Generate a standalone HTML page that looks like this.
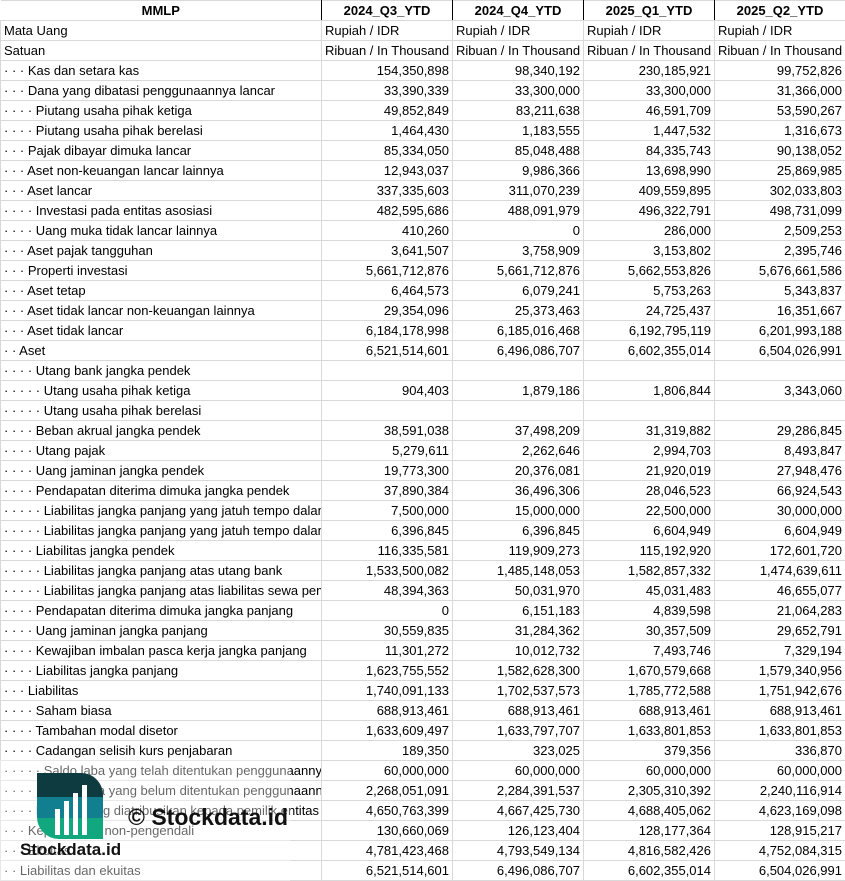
<!DOCTYPE html>
<html><head><meta charset="utf-8"><style>
body{margin:0;width:845px;height:881px;overflow:hidden;background:#fff;font-family:"Liberation Sans",sans-serif;font-size:13px;color:#000;position:relative}
table{border-collapse:collapse;table-layout:fixed;position:absolute;left:0;top:0;width:845px}
td{height:19px;padding:0 3px;border:1px solid #d9d9d9;white-space:nowrap;overflow:hidden;text-overflow:clip;line-height:19px}
td.n{text-align:right}
tr.h td{font-weight:bold;text-align:center;border-left:1px solid #000;border-right:1px solid #000}
tr.h td:first-child{border-left:none}
</style></head><body>
<table>
<colgroup><col style="width:321px"><col style="width:131px"><col style="width:131px"><col style="width:131px"><col style="width:131px"></colgroup>
<tr class="h"><td>MMLP</td><td>2024_Q3_YTD</td><td>2024_Q4_YTD</td><td>2025_Q1_YTD</td><td>2025_Q2_YTD</td></tr>
<tr><td>Mata Uang</td><td>Rupiah / IDR</td><td>Rupiah / IDR</td><td>Rupiah / IDR</td><td>Rupiah / IDR</td></tr>
<tr><td>Satuan</td><td>Ribuan / In Thousand</td><td>Ribuan / In Thousand</td><td>Ribuan / In Thousand</td><td>Ribuan / In Thousand</td></tr>
<tr><td>· · · Kas dan setara kas</td><td class="n">154,350,898</td><td class="n">98,340,192</td><td class="n">230,185,921</td><td class="n">99,752,826</td></tr>
<tr><td>· · · Dana yang dibatasi penggunaannya lancar</td><td class="n">33,390,339</td><td class="n">33,300,000</td><td class="n">33,300,000</td><td class="n">31,366,000</td></tr>
<tr><td>· · · · Piutang usaha pihak ketiga</td><td class="n">49,852,849</td><td class="n">83,211,638</td><td class="n">46,591,709</td><td class="n">53,590,267</td></tr>
<tr><td>· · · · Piutang usaha pihak berelasi</td><td class="n">1,464,430</td><td class="n">1,183,555</td><td class="n">1,447,532</td><td class="n">1,316,673</td></tr>
<tr><td>· · · Pajak dibayar dimuka lancar</td><td class="n">85,334,050</td><td class="n">85,048,488</td><td class="n">84,335,743</td><td class="n">90,138,052</td></tr>
<tr><td>· · · Aset non-keuangan lancar lainnya</td><td class="n">12,943,037</td><td class="n">9,986,366</td><td class="n">13,698,990</td><td class="n">25,869,985</td></tr>
<tr><td>· · · Aset lancar</td><td class="n">337,335,603</td><td class="n">311,070,239</td><td class="n">409,559,895</td><td class="n">302,033,803</td></tr>
<tr><td>· · · · Investasi pada entitas asosiasi</td><td class="n">482,595,686</td><td class="n">488,091,979</td><td class="n">496,322,791</td><td class="n">498,731,099</td></tr>
<tr><td>· · · · Uang muka tidak lancar lainnya</td><td class="n">410,260</td><td class="n">0</td><td class="n">286,000</td><td class="n">2,509,253</td></tr>
<tr><td>· · · Aset pajak tangguhan</td><td class="n">3,641,507</td><td class="n">3,758,909</td><td class="n">3,153,802</td><td class="n">2,395,746</td></tr>
<tr><td>· · · Properti investasi</td><td class="n">5,661,712,876</td><td class="n">5,661,712,876</td><td class="n">5,662,553,826</td><td class="n">5,676,661,586</td></tr>
<tr><td>· · · Aset tetap</td><td class="n">6,464,573</td><td class="n">6,079,241</td><td class="n">5,753,263</td><td class="n">5,343,837</td></tr>
<tr><td>· · · Aset tidak lancar non-keuangan lainnya</td><td class="n">29,354,096</td><td class="n">25,373,463</td><td class="n">24,725,437</td><td class="n">16,351,667</td></tr>
<tr><td>· · · Aset tidak lancar</td><td class="n">6,184,178,998</td><td class="n">6,185,016,468</td><td class="n">6,192,795,119</td><td class="n">6,201,993,188</td></tr>
<tr><td>· · Aset</td><td class="n">6,521,514,601</td><td class="n">6,496,086,707</td><td class="n">6,602,355,014</td><td class="n">6,504,026,991</td></tr>
<tr><td>· · · · Utang bank jangka pendek</td><td></td><td></td><td></td><td></td></tr>
<tr><td>· · · · · Utang usaha pihak ketiga</td><td class="n">904,403</td><td class="n">1,879,186</td><td class="n">1,806,844</td><td class="n">3,343,060</td></tr>
<tr><td>· · · · · Utang usaha pihak berelasi</td><td></td><td></td><td></td><td></td></tr>
<tr><td>· · · · Beban akrual jangka pendek</td><td class="n">38,591,038</td><td class="n">37,498,209</td><td class="n">31,319,882</td><td class="n">29,286,845</td></tr>
<tr><td>· · · · Utang pajak</td><td class="n">5,279,611</td><td class="n">2,262,646</td><td class="n">2,994,703</td><td class="n">8,493,847</td></tr>
<tr><td>· · · · Uang jaminan jangka pendek</td><td class="n">19,773,300</td><td class="n">20,376,081</td><td class="n">21,920,019</td><td class="n">27,948,476</td></tr>
<tr><td>· · · · Pendapatan diterima dimuka jangka pendek</td><td class="n">37,890,384</td><td class="n">36,496,306</td><td class="n">28,046,523</td><td class="n">66,924,543</td></tr>
<tr><td>· · · · · Liabilitas jangka panjang yang jatuh tempo dalam satu tahun</td><td class="n">7,500,000</td><td class="n">15,000,000</td><td class="n">22,500,000</td><td class="n">30,000,000</td></tr>
<tr><td>· · · · · Liabilitas jangka panjang yang jatuh tempo dalam satu tahun</td><td class="n">6,396,845</td><td class="n">6,396,845</td><td class="n">6,604,949</td><td class="n">6,604,949</td></tr>
<tr><td>· · · · Liabilitas jangka pendek</td><td class="n">116,335,581</td><td class="n">119,909,273</td><td class="n">115,192,920</td><td class="n">172,601,720</td></tr>
<tr><td>· · · · · Liabilitas jangka panjang atas utang bank</td><td class="n">1,533,500,082</td><td class="n">1,485,148,053</td><td class="n">1,582,857,332</td><td class="n">1,474,639,611</td></tr>
<tr><td>· · · · · Liabilitas jangka panjang atas liabilitas sewa pembiayaan</td><td class="n">48,394,363</td><td class="n">50,031,970</td><td class="n">45,031,483</td><td class="n">46,655,077</td></tr>
<tr><td>· · · · Pendapatan diterima dimuka jangka panjang</td><td class="n">0</td><td class="n">6,151,183</td><td class="n">4,839,598</td><td class="n">21,064,283</td></tr>
<tr><td>· · · · Uang jaminan jangka panjang</td><td class="n">30,559,835</td><td class="n">31,284,362</td><td class="n">30,357,509</td><td class="n">29,652,791</td></tr>
<tr><td>· · · · Kewajiban imbalan pasca kerja jangka panjang</td><td class="n">11,301,272</td><td class="n">10,012,732</td><td class="n">7,493,746</td><td class="n">7,329,194</td></tr>
<tr><td>· · · · Liabilitas jangka panjang</td><td class="n">1,623,755,552</td><td class="n">1,582,628,300</td><td class="n">1,670,579,668</td><td class="n">1,579,340,956</td></tr>
<tr><td>· · · Liabilitas</td><td class="n">1,740,091,133</td><td class="n">1,702,537,573</td><td class="n">1,785,772,588</td><td class="n">1,751,942,676</td></tr>
<tr><td>· · · · Saham biasa</td><td class="n">688,913,461</td><td class="n">688,913,461</td><td class="n">688,913,461</td><td class="n">688,913,461</td></tr>
<tr><td>· · · · Tambahan modal disetor</td><td class="n">1,633,609,497</td><td class="n">1,633,797,707</td><td class="n">1,633,801,853</td><td class="n">1,633,801,853</td></tr>
<tr><td>· · · · Cadangan selisih kurs penjabaran</td><td class="n">189,350</td><td class="n">323,025</td><td class="n">379,356</td><td class="n">336,870</td></tr>
<tr><td>· · · · · Saldo laba yang telah ditentukan penggunaannya</td><td class="n">60,000,000</td><td class="n">60,000,000</td><td class="n">60,000,000</td><td class="n">60,000,000</td></tr>
<tr><td>· · · · · Saldo laba yang belum ditentukan penggunaannya</td><td class="n">2,268,051,091</td><td class="n">2,284,391,537</td><td class="n">2,305,310,392</td><td class="n">2,240,116,914</td></tr>
<tr><td>· · · · Ekuitas yang diatribusikan kepada pemilik entitas induk</td><td class="n">4,650,763,399</td><td class="n">4,667,425,730</td><td class="n">4,688,405,062</td><td class="n">4,623,169,098</td></tr>
<tr><td>· · · Kepentingan non-pengendali</td><td class="n">130,660,069</td><td class="n">126,123,404</td><td class="n">128,177,364</td><td class="n">128,915,217</td></tr>
<tr><td>· · · Ekuitas</td><td class="n">4,781,423,468</td><td class="n">4,793,549,134</td><td class="n">4,816,582,426</td><td class="n">4,752,084,315</td></tr>
<tr><td>· · Liabilitas dan ekuitas</td><td class="n">6,521,514,601</td><td class="n">6,496,086,707</td><td class="n">6,602,355,014</td><td class="n">6,504,026,991</td></tr>
</table>
<div style="position:absolute;left:0;top:760px;width:290px;height:121px;background:rgba(255,255,255,0.4)"></div>
<div style="position:absolute;left:37px;top:773px;width:66px;height:66px;border-radius:0 22px 0 22px;overflow:hidden;background:linear-gradient(#0d3b3f 0 36%,#117f8f 36% 68%,#11a77f 68%)">
<div style="position:absolute;left:18px;top:36px;width:5px;height:26px;background:#fff"></div>
<div style="position:absolute;left:27px;top:28px;width:5px;height:34px;background:#fff"></div>
<div style="position:absolute;left:36px;top:20px;width:5px;height:42px;background:#fff"></div>
<div style="position:absolute;left:45px;top:12px;width:5px;height:50px;background:#fff"></div>
</div>
<div style="position:absolute;left:128px;top:804px;font-size:23px;font-weight:bold;color:#111">© Stockdata.id</div>
<div style="position:absolute;left:20px;top:840px;font-size:17px;font-weight:bold;color:#111">Stockdata.id</div>
</body></html>
